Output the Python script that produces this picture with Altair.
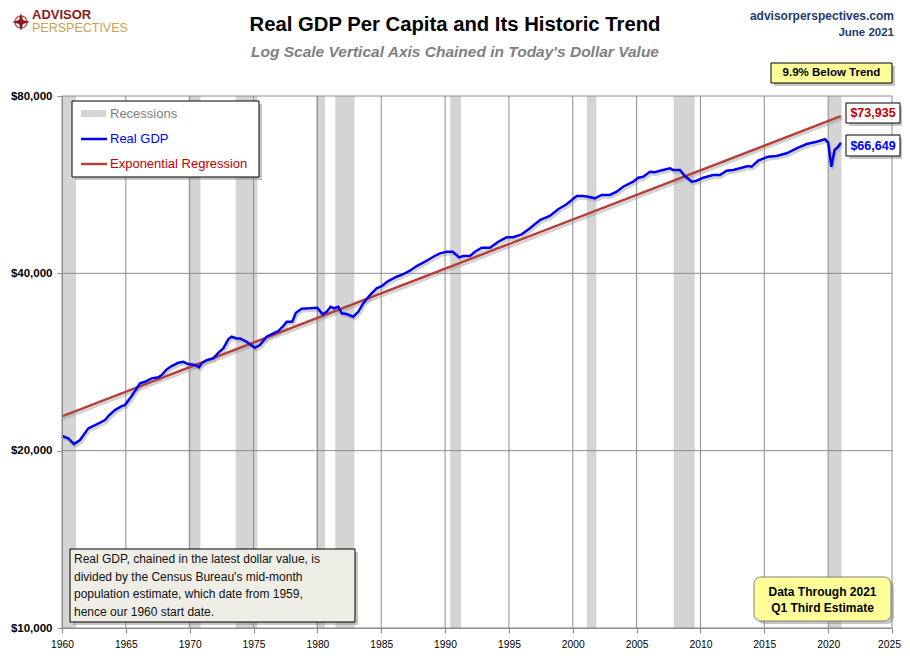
import altair as alt
import pandas as pd

FONT = "Liberation Sans"

# real GDP per capita (today's dollars)
gdp_year = [
    1960.00, 1960.49, 1960.94, 1961.41, 1962.06, 1962.72, 1963.37, 1963.63, 1964.15, 1964.67,
    1964.93, 1965.46, 1966.11, 1966.50, 1967.02, 1967.54, 1967.81, 1968.20, 1968.59, 1969.11,
    1969.50, 1969.89, 1970.42, 1970.73, 1970.94, 1971.33, 1971.85, 1972.24, 1972.63, 1973.02,
    1973.29, 1973.68, 1973.94, 1974.46, 1975.11, 1975.50, 1976.03, 1976.55, 1976.94, 1977.33,
    1977.60, 1978.03, 1978.32, 1978.77, 1979.42, 1979.99, 1980.41, 1980.73, 1981.04, 1981.30,
    1981.64, 1981.90, 1982.29, 1982.81, 1983.20, 1983.59, 1984.12, 1984.64, 1985.04, 1985.55,
    1986.21, 1986.73, 1987.25, 1987.78, 1988.43, 1989.08, 1989.60, 1990.13, 1990.60, 1991.11,
    1991.42, 1991.95, 1992.34, 1992.87, 1993.52, 1994.17, 1994.82, 1995.34, 1996.00, 1996.65,
    1997.43, 1998.21, 1998.86, 1999.52, 2000.31, 2000.82, 2001.21, 2001.74, 2002.26, 2002.91,
    2003.44, 2003.95, 2004.74, 2005.13, 2005.52, 2006.05, 2006.44, 2006.83, 2007.62, 2007.87,
    2008.39, 2008.79, 2009.31, 2009.70, 2010.22, 2011.00, 2011.53, 2012.05, 2012.57, 2013.09,
    2013.74, 2014.01, 2014.53, 2015.31, 2015.97, 2016.75, 2017.53, 2018.32, 2019.10, 2019.75,
    2020.00, 2020.25, 2020.50, 2020.75, 2021.00,
]
gdp_value = [
    21180, 20990, 20520, 20850, 21820, 22170, 22540, 22900, 23440, 23810,
    23900, 24760, 26020, 26180, 26530, 26640, 26870, 27480, 27840, 28200,
    28310, 28060, 27950, 27700, 28140, 28500, 28690, 29320, 29830, 30900,
    31220, 31020, 31020, 30620, 29900, 30220, 31220, 31640, 31920, 32550,
    33100, 33100, 34290, 34830, 34890, 34970, 34070, 34420, 35100, 34890,
    35100, 34210, 34110, 33760, 34420, 35570, 36750, 37720, 38060, 38810,
    39470, 39890, 40410, 41160, 41860, 42680, 43250, 43520, 43520, 42580,
    42800, 42800, 43520, 44210, 44210, 45260, 46050, 46050, 46590, 47700,
    49260, 50050, 51380, 52390, 54110, 54110, 53960, 53630, 54330, 54330,
    55030, 56110, 57220, 58130, 58350, 59510, 59370, 59740, 60310, 59910,
    59910, 58510, 57220, 57450, 58130, 58750, 58750, 59740, 59910, 60310,
    60850, 60680, 62130, 63100, 63270, 63950, 65210, 66310, 66910, 67550,
    66700, 60680, 64780, 65470, 66649,
]

# exponential regression, straight on the log axis
trend_year = [1960.0, 2021.0]
trend_value = [22870, 73935]

# recession shading as drawn
rec_start = [1960.0, 1969.9, 1973.6, 1979.9, 1981.4, 1990.4, 2001.1, 2007.9, 2020.0]
rec_end = [1961.1, 1970.85, 1975.3, 1980.6, 1982.9, 1991.25, 2001.85, 2009.55, 2021.05]

x_ticks = [1960, 1965, 1970, 1975, 1980, 1985, 1990, 1995, 2000, 2005, 2010, 2015, 2020, 2025]
y_ticks = [10000, 20000, 40000, 80000]

end_labels = ["$73,935", "$66,649"]
note_lines = [
    "Real GDP, chained in the latest dollar value, is",
    "divided by the Census Bureau's mid-month",
    "population estimate, which date from 1959,",
    "hence our 1960 start date.",
]

W, H = 830, 532
GRID = "#8c8c8c"
BLUE = "#0000f5"
BROWN = "#b3413b"
RED = "#c00000"

gdp = pd.DataFrame({"year": gdp_year, "value": gdp_value})
trend = pd.DataFrame({"year": trend_year, "value": trend_value})
rec = pd.DataFrame({"start": rec_start, "end": rec_end})
one = pd.DataFrame({"k": [0]})

x_scale = alt.Scale(domain=[1960, 2025], nice=False, zero=False)
y_scale = alt.Scale(type="log", domain=[10000, 80000], nice=False)

x_axis = alt.Axis(values=x_ticks, format="d", title=None, grid=False,
                  domainColor=GRID, tickColor=GRID, tickSize=5,
                  labelFont=FONT, labelFontSize=10.3, labelColor="black",
                  labelPadding=6, labelFlush=False, zindex=1,
                  labelOffset={"condition": {"test": "datum.value == 2025", "value": -3}, "value": 0})
y_axis = alt.Axis(values=y_ticks, format="$,.0f", title=None, grid=False,
                  domainColor=GRID, tickColor=GRID, tickSize=5,
                  labelFont=FONT, labelFontSize=11.5, labelFontWeight="bold",
                  labelColor="black", labelPadding=5, zindex=1)

X = alt.X("year:Q", scale=x_scale, axis=x_axis)
Y = alt.Y("value:Q", scale=y_scale, axis=y_axis)


def txt(s, x, y, size, color="black", weight="normal", align="left", style="normal"):
    return alt.Chart(one).mark_text(
        text=s, font=FONT, fontSize=size, fontWeight=weight, fontStyle=style,
        color=color, align=align, baseline="middle"
    ).encode(x=alt.value(x), y=alt.value(y))


def box(x1, y1, x2, y2, fill, stroke="black", radius=0):
    shadow = alt.Chart(one).mark_rect(color="#808080", opacity=0.45, cornerRadius=radius).encode(
        x=alt.value(x1 + 3), x2=alt.value(x2 + 3), y=alt.value(y1 + 3), y2=alt.value(y2 + 3))
    face = alt.Chart(one).mark_rect(fill=fill, stroke=stroke, strokeWidth=1, cornerRadius=radius).encode(
        x=alt.value(x1), x2=alt.value(x2), y=alt.value(y1), y2=alt.value(y2))
    return [shadow, face]


bands = alt.Chart(rec).mark_rect(color="#d4d4d4").encode(
    x=alt.X("start:Q", scale=x_scale, axis=x_axis), x2="end:Q",
    y=alt.value(0), y2=alt.value(H))

vgrid = alt.Chart(pd.DataFrame({"year": x_ticks})).mark_rule(color=GRID, strokeWidth=1).encode(
    x=X, y=alt.value(0), y2=alt.value(H))
hgrid = alt.Chart(pd.DataFrame({"value": y_ticks})).mark_rule(color=GRID, strokeWidth=1).encode(
    y=Y, x=alt.value(0), x2=alt.value(W))

trend_shadow = alt.Chart(trend).mark_line(color="#999999", strokeWidth=2.5, opacity=0.45,
                                          xOffset=1.5, yOffset=2.5).encode(x=X, y=Y)
trend_line = alt.Chart(trend).mark_line(color=BROWN, strokeWidth=2.5).encode(x=X, y=Y)
gdp_shadow = alt.Chart(gdp).mark_line(color="#999999", strokeWidth=2.5, opacity=0.45,
                                      xOffset=1.5, yOffset=2.5).encode(x=X, y=Y)
gdp_line = alt.Chart(gdp).mark_line(color=BLUE, strokeWidth=2.5).encode(x=X, y=Y)

layers = [bands, vgrid, hgrid, trend_shadow, gdp_shadow, trend_line, gdp_line]

# legend box
layers += box(10, 5, 197, 81, "white")
layers.append(alt.Chart(one).mark_rect(color="#d4d4d4").encode(
    x=alt.value(19), x2=alt.value(44), y=alt.value(14), y2=alt.value(21)))
layers.append(alt.Chart(one).mark_rule(color=BLUE, strokeWidth=2.5).encode(
    x=alt.value(19), x2=alt.value(45), y=alt.value(43)))
layers.append(alt.Chart(one).mark_rule(color=BROWN, strokeWidth=2.5).encode(
    x=alt.value(19), x2=alt.value(45), y=alt.value(68)))
layers.append(txt("Recessions", 48, 18, 13, color="#808080"))
layers.append(txt("Real GDP", 48, 43, 13, color=BLUE))
layers.append(txt("Exponential Regression", 48, 68, 13, color=RED))

# end value labels
layers += box(784, 7, 838, 27, "white")
layers.append(txt(end_labels[0], 811, 17, 12.5, color=RED, weight="bold", align="center"))
layers += box(784, 39, 838, 60, "white")
layers.append(txt(end_labels[1], 811, 49.5, 12.5, color=BLUE, weight="bold", align="center"))

# gap to trend
layers += box(709, -33, 830, -13, "#ffff99")
layers.append(txt("9.9% Below Trend", 769.5, -23, 11.5, weight="bold", align="center"))

# notes
layers += box(8, 453, 293, 526, "#eeede6")
for i, line in enumerate(note_lines):
    layers.append(txt(line, 12, 463 + 17.7 * i, 12, color="#111111"))
layers += box(692, 481, 829, 525, "#ffff99", stroke="#7f7f7f", radius=7)
layers.append(txt("Data Through 2021", 760.5, 495.5, 12, weight="bold", align="center"))
layers.append(txt("Q1 Third Estimate", 760.5, 512, 12, weight="bold", align="center"))

# titles
layers.append(txt("Real GDP Per Capita and Its Historic Trend", 393, -71, 20.3, weight="bold", align="center"))
layers.append(txt("Log Scale Vertical Axis Chained in Today's Dollar Value", 393, -44, 15.5,
                  color="#7f7f7f", weight="bold", align="center", style="italic"))
layers.append(txt("advisorperspectives.com", 832, -80, 12, color="#1f3a6e", weight="bold", align="right"))
layers.append(txt("June 2021", 832, -63, 11.5, color="#1f3a6e", weight="bold", align="right"))

# logo
layers.append(alt.Chart(one).mark_point(shape="circle", filled=False, stroke="#8b1a1a",
                                        strokeWidth=1.5, size=150).encode(
    x=alt.value(-41), y=alt.value(-74)))
layers.append(alt.Chart(one).mark_point(
    shape="M0,-1L0.22,-0.22L1,0L0.22,0.22L0,1L-0.22,0.22L-1,0L-0.22,-0.22Z",
    filled=True, color="#8b1a1a", opacity=1, size=330).encode(x=alt.value(-41), y=alt.value(-74)))
layers.append(txt("ADVISOR", -30, -81, 13, color="#8b1a1a", weight="bold"))
layers.append(txt("PERSPECTIVES", -30, -68, 12.5, color="#c8a24a"))

chart = alt.layer(*layers).properties(
    width=W, height=H,
    padding={"left": 54, "top": 88, "right": 10, "bottom": 25},
    autosize=alt.AutoSizeParams(type="none"),
    background="white",
).configure_view(strokeOpacity=0)

chart.save("out.html", embed_options={"renderer": "svg", "actions": False})
